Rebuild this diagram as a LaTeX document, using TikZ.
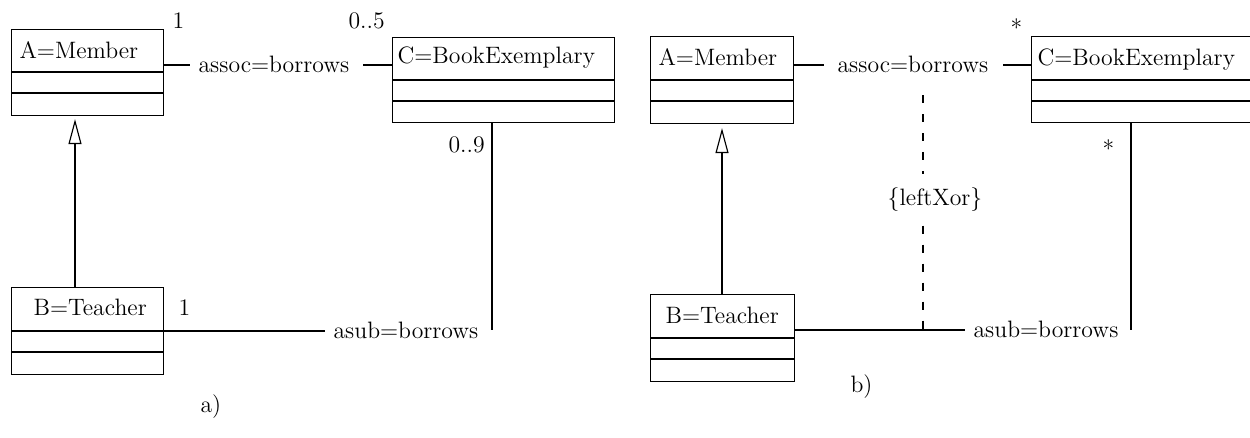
\documentclass[tikz,border=0pt]{standalone}
\usetikzlibrary{arrows.meta}
\begin{document}
\begin{tikzpicture}[x=0.02cm,y=-0.02cm,
  line width=0.65pt,
  clsbox/.style={draw, rectangle, inner sep=0pt, anchor=north west},
  lbl/.style={inner sep=0pt, anchor=base west, font=\fontsize{13.5}{16}\selectfont},
  gen/.style={-{Triangle[open,length=0.5cm,width=0.26cm,line width=0.65pt]}},
  xorline/.style={dash pattern=on 0.16cm off 0.22cm}]
\useasboundingbox (0,0) rectangle (1250,437);
\clip (0,0) rectangle (1250,437);

% ---------- a) ----------
\node[clsbox, minimum width=3.04cm, minimum height=1.72cm] (A1) at (11,29) {};
\draw (A1.west |- 0,72) -- (A1.east |- 0,72);
\draw (A1.west |- 0,93) -- (A1.east |- 0,93);
\node[lbl] (A1t) at (19,58) {A=Member};

\node[clsbox, minimum width=4.44cm, minimum height=1.70cm] (C1) at (392,37) {};
\draw (C1.west |- 0,80) -- (C1.east |- 0,80);
\draw (C1.west |- 0,101) -- (C1.east |- 0,101);
\node[lbl] (C1t) at (397,63) {C=BookExemplary};

\node[clsbox, minimum width=3.04cm, minimum height=1.74cm] (B1) at (11,287) {};
\draw (B1.west |- 0,331) -- (B1.east |- 0,331);
\draw (B1.west |- 0,352) -- (B1.east |- 0,352);
\node[lbl] (B1t) at (33,315) {B=Teacher};

\node[lbl] (assoc1) at (198,72) {assoc=borrows};
\coordinate (a1l) at (190,65);
\coordinate (a1r) at (363,65);
\draw (A1.east |- a1l) -- (a1l);
\draw (a1r) -- (C1.west |- a1r);

\node[lbl] (asub1) at (333,338) {asub=borrows};
\coordinate (s1) at (325,331);
\draw (B1.east |- s1) -- (s1);
\coordinate (v1) at (492,330);
\draw (C1.south -| v1) -- (v1);

\coordinate (g1) at (75,0);
\draw[gen] (B1.north -| g1) -- ([yshift=-3*0.02cm]A1.south -| g1);

\node[lbl] (m1) at (172,28) {1};
\node[lbl] (m2) at (348,28) {0..5};
\node[lbl] (m3) at (448,152) {0..9};
\node[lbl] (m4) at (178,315) {1};
\node[lbl] (capa) at (200,412) {a)};

% ---------- b) ----------
\node[clsbox, minimum width=2.86cm, minimum height=1.74cm] (A2) at (650,36) {};
\draw (A2.west |- 0,80) -- (A2.east |- 0,80);
\draw (A2.west |- 0,101) -- (A2.east |- 0,101);
\node[lbl] (A2t) at (658,65) {A=Member};

\node[clsbox, minimum width=4.44cm, minimum height=1.72cm] (C2) at (1031,36) {};
\draw (C2.west |- 0,80) -- (C2.east |- 0,80);
\draw (C2.west |- 0,101) -- (C2.east |- 0,101);
\node[lbl] (C2t) at (1037,65) {C=BookExemplary};

\node[clsbox, minimum width=2.88cm, minimum height=1.74cm] (B2) at (650,294) {};
\draw (B2.west |- 0,338) -- (B2.east |- 0,338);
\draw (B2.west |- 0,359) -- (B2.east |- 0,359);
\node[lbl] (B2t) at (665,323) {B=Teacher};

\node[lbl] (assoc2) at (837,72) {assoc=borrows};
\coordinate (a2l) at (824,65);
\coordinate (a2r) at (1003,65);
\draw (A2.east |- a2l) -- (a2l);
\draw (a2r) -- (C2.west |- a2r);

\node[lbl] (asub2) at (973,337) {asub=borrows};
\coordinate (s2) at (965,330);
\draw (B2.east |- s2) -- (s2);
\coordinate (v2) at (1131,330);
\draw (C2.south -| v2) -- (v2);

\coordinate (g2) at (722,0);
\draw[gen] (B2.north -| g2) -- ([yshift=-4*0.02cm]A2.south -| g2);

\node[inner sep=0pt, font=\fontsize{13.5}{16}\selectfont, minimum height=1.0cm] (xor) at (935,200) {\{leftXor\}};
\coordinate (xtop) at (923,95);
\coordinate (xbot) at (923,330);
\draw[xorline] (xtop) -- (xor.north -| xtop);
\draw[xorline] (xor.south -| xtop) -- (xbot);

\node[lbl] (m5) at (1010,36) {*};
\node[lbl] (m6) at (1102,157) {*};
\node[lbl] (capb) at (850,392) {b)};
\end{tikzpicture}
\end{document}
